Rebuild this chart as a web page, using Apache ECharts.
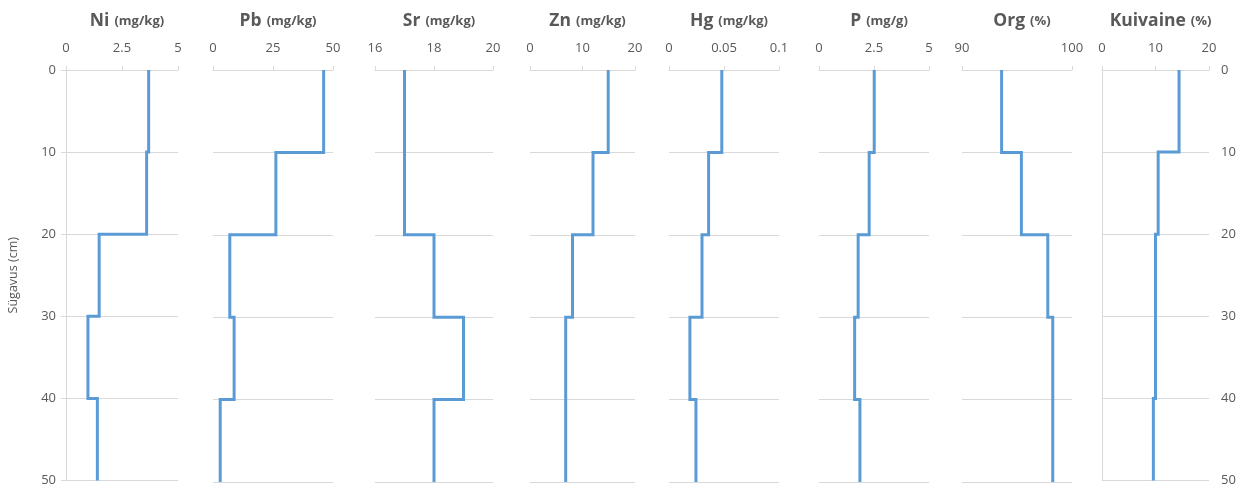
<!DOCTYPE html>
<html>
<head>
<meta charset="utf-8">
<script src="https://cdn.jsdelivr.net/npm/echarts@6/dist/echarts.min.js"></script>
<style>
html,body{margin:0;padding:0;background:#fff;}
#chart{width:1250px;height:487px;}
</style>
</head>
<body>
<div id="chart"></div>
<script>
// ---- data ----
const depths = [0, 10, 20, 30, 40, 50];          // layer boundaries (cm)
const ni = [3.69, 3.60, 1.48, 0.98, 1.40];        // mg/kg
const pb = [46.1, 26.2, 7.0, 8.8, 3.0];           // mg/kg
const sr = [17.0, 17.0, 18.0, 19.0, 18.0];        // mg/kg
const zn = [14.9, 12.0, 8.1, 6.8, 6.8];           // mg/kg
const hg = [0.048, 0.036, 0.030, 0.019, 0.0245];  // mg/kg
const p = [2.51, 2.28, 1.78, 1.62, 1.86];         // mg/g
const org = [93.6, 95.4, 97.8, 98.25, 98.25];     // %
const kuivaine = [14.4, 10.5, 10.0, 10.0, 9.6];   // %

const names = ['Ni', 'Pb', 'Sr', 'Zn', 'Hg', 'P', 'Org', 'Kuivaine'];
const units = ['(mg/kg)', '(mg/kg)', '(mg/kg)', '(mg/kg)', '(mg/kg)', '(mg/g)', '(%)', '(%)'];
const seriesValues = [ni, pb, sr, zn, hg, p, org, kuivaine];
const xMin = [0, 0, 16, 0, 0, 0, 90, 0];
const xMax = [5, 50, 20, 20, 0.1, 5, 100, 20];
const xInterval = [2.5, 25, 2, 10, 0.05, 2.5, 10, 10];
const depthTitle = 'Sügavus (cm)';

// ---- layout ----
const gridLeft = [66, 213, 375, 530, 669, 819, 962, 1102];
const gridRight = [178, 333, 493, 635, 779, 929, 1072, 1209];
const plotTop = 70, plotHeight = 412;
const txt = '#595959', gridCol = '#d9d9d9', lineCol = '#5b9bd5';
const font = '"Open Sans", "Noto Sans", sans-serif';

function stepPoints(vals) {
  const pts = [];
  for (let i = 0; i < vals.length; i++) {
    pts.push([vals[i], depths[i]]);
    pts.push([vals[i], depths[i + 1]]);
  }
  return pts;
}

const grids = [], xAxes = [], yAxes = [], series = [], titles = [];
const n = names.length;
for (let i = 0; i < n; i++) {
  grids.push({ left: gridLeft[i], width: gridRight[i] - gridLeft[i], top: plotTop, height: plotHeight, containLabel: false });
  xAxes.push({
    type: 'value', gridIndex: i, position: 'top',
    min: xMin[i], max: xMax[i], interval: xInterval[i],
    axisLine: { show: true, lineStyle: { color: gridCol, width: 1 } },
    axisTick: { show: true, length: 4, lineStyle: { color: gridCol } },
    axisLabel: { color: txt, fontSize: 13, fontFamily: font, margin: 15 },
    splitLine: { show: false }
  });
  const first = i === 0, last = i === n - 1;
  yAxes.push({
    type: 'value', gridIndex: i, inverse: true, min: 0, max: 50, interval: 10,
    position: last ? 'right' : 'left',
    axisLine: { show: first || last, lineStyle: { color: gridCol } },
    axisTick: { show: first || last, length: 5, lineStyle: { color: gridCol } },
    axisLabel: { show: first || last, color: txt, fontSize: 13, fontFamily: font, margin: first ? 10 : 12 },
    splitLine: { show: true, lineStyle: { color: gridCol, width: 1 } },
    name: first ? depthTitle : '',
    nameLocation: 'middle', nameGap: 46, nameRotate: 90,
    nameTextStyle: { color: txt, fontSize: 12.5, fontFamily: font }
  });
  series.push({
    type: 'line', xAxisIndex: i, yAxisIndex: i,
    data: stepPoints(seriesValues[i]),
    showSymbol: false, symbol: 'none',
    lineStyle: { color: lineCol, width: 3, join: 'miter' },
    animation: false
  });
  titles.push({
    text: '{b|' + names[i] + '} {u|' + units[i] + '}',
    left: (gridLeft[i] + gridRight[i]) / 2, top: 7, textAlign: 'center',
    textStyle: {
      rich: {
        b: { fontSize: 17.5, fontWeight: 'bold', color: txt, fontFamily: font },
        u: { fontSize: 13, color: txt, fontFamily: font }
      }
    }
  });
}

const chart = echarts.init(document.getElementById('chart'), null, { renderer: 'canvas' });
chart.setOption({
  animation: false,
  backgroundColor: '#fff',
  title: titles,
  grid: grids,
  xAxis: xAxes,
  yAxis: yAxes,
  series: series
});
</script>
</body>
</html>
